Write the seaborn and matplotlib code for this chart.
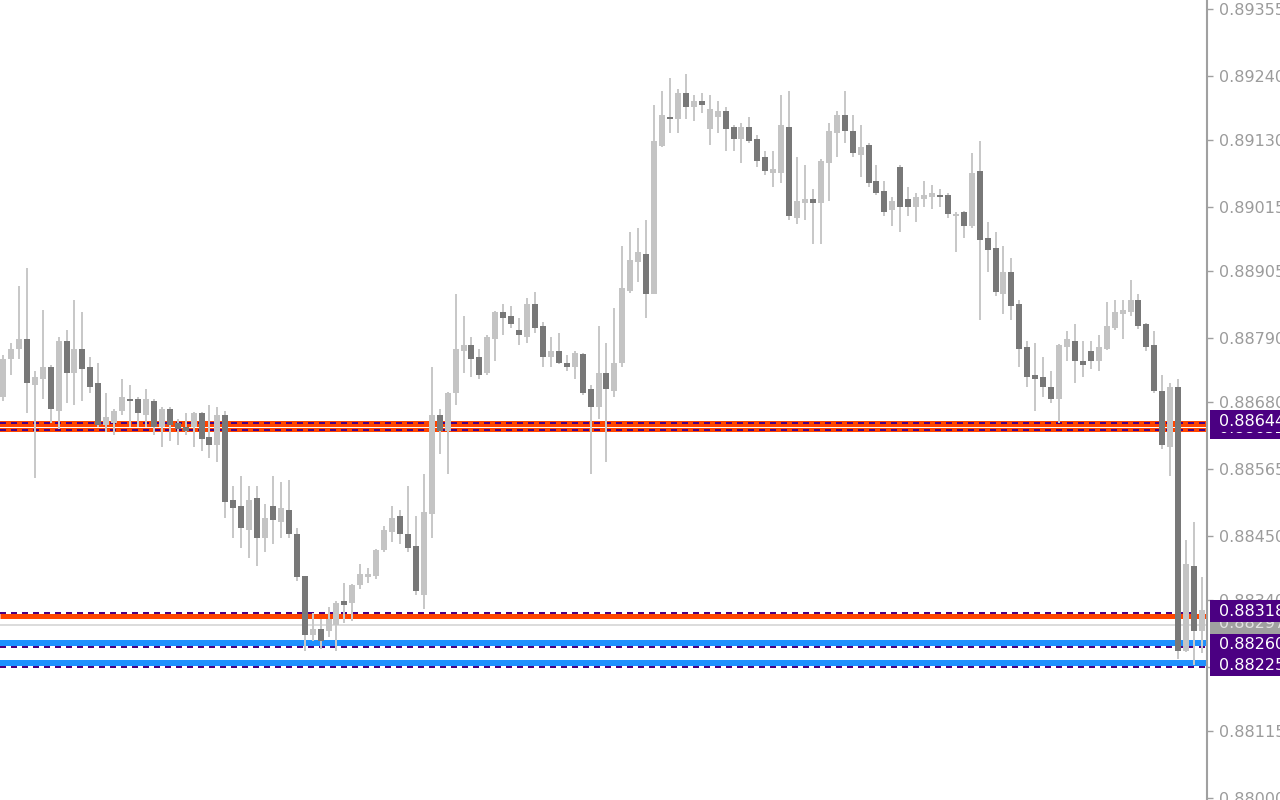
import numpy as np
import pandas as pd
import matplotlib
matplotlib.use("Agg")
import matplotlib.pyplot as plt
import seaborn as sns
from matplotlib.patches import Rectangle
from matplotlib.transforms import blended_transform_factory

# ---------------- data ----------------
opens = [0.88689, 0.88755, 0.88772, 0.88789, 0.88710, 0.88720, 0.88741, 0.88665, 0.88786, 0.88731,
         0.88772, 0.88741, 0.88713, 0.88641, 0.88645, 0.88665, 0.88686, 0.88686, 0.88658, 0.88682,
         0.88638, 0.88669, 0.88645, 0.88638, 0.88638, 0.88662, 0.88620, 0.88607, 0.88658, 0.88512,
         0.88502, 0.88461, 0.88515, 0.88447, 0.88502, 0.88475, 0.88495, 0.88454, 0.88382, 0.88281,
         0.88291, 0.88288, 0.88298, 0.88339, 0.88335, 0.88366, 0.88380, 0.88382, 0.88426, 0.88457,
         0.88485, 0.88454, 0.88433, 0.88349, 0.88488, 0.88658, 0.88631, 0.88696, 0.88768, 0.88779,
         0.88758, 0.88731, 0.88789, 0.88835, 0.88828, 0.88804, 0.88792, 0.88849, 0.88811, 0.88758,
         0.88768, 0.88748, 0.88741, 0.88763, 0.88703, 0.88672, 0.88731, 0.88700, 0.88748, 0.88871,
         0.88921, 0.88935, 0.88866, 0.89120, 0.89170, 0.89167, 0.89211, 0.89187, 0.89198, 0.89149,
         0.89170, 0.89180, 0.89153, 0.89132, 0.89153, 0.89132, 0.89101, 0.89074, 0.89074, 0.89153,
         0.88997, 0.89022, 0.89029, 0.89022, 0.89091, 0.89143, 0.89173, 0.89146, 0.89105, 0.89122,
         0.89060, 0.89043, 0.89010, 0.89084, 0.89029, 0.89015, 0.89029, 0.89033, 0.89036, 0.89036,
         0.89000, 0.89007, 0.88983, 0.89077, 0.88962, 0.88945, 0.88866, 0.88904, 0.88849, 0.88775,
         0.88727, 0.88724, 0.88706, 0.88686, 0.88775, 0.88786, 0.88751, 0.88768, 0.88751, 0.88772,
         0.88808, 0.88832, 0.88835, 0.88856, 0.88815, 0.88779, 0.88700, 0.88603, 0.88706, 0.88253,
         0.88399, 0.88287]

highs = [0.88762, 0.88782, 0.88880, 0.88911, 0.88734, 0.88839, 0.88744, 0.88792, 0.88804, 0.88856,
         0.88835, 0.88758, 0.88748, 0.88696, 0.88669, 0.88720, 0.88710, 0.88689, 0.88703, 0.88686,
         0.88672, 0.88672, 0.88652, 0.88662, 0.88664, 0.88664, 0.88676, 0.88672, 0.88665, 0.88536,
         0.88553, 0.88536, 0.88536, 0.88505, 0.88553, 0.88543, 0.88546, 0.88464, 0.88382, 0.88318,
         0.88308, 0.88328, 0.88339, 0.88370, 0.88368, 0.88402, 0.88395, 0.88428, 0.88468, 0.88502,
         0.88495, 0.88536, 0.88485, 0.88557, 0.88741, 0.88669, 0.88698, 0.88866, 0.88828, 0.88792,
         0.88772, 0.88796, 0.88837, 0.88849, 0.88846, 0.88825, 0.88859, 0.88870, 0.88818, 0.88792,
         0.88799, 0.88761, 0.88768, 0.88764, 0.88710, 0.88811, 0.88782, 0.88842, 0.88949, 0.88973,
         0.88980, 0.88993, 0.89191, 0.89215, 0.89237, 0.89218, 0.89244, 0.89208, 0.89211, 0.89208,
         0.89198, 0.89187, 0.89156, 0.89160, 0.89170, 0.89139, 0.89112, 0.89112, 0.89208, 0.89215,
         0.89101, 0.89088, 0.89046, 0.89098, 0.89160, 0.89180, 0.89215, 0.89173, 0.89156, 0.89125,
         0.89088, 0.89060, 0.89033, 0.89088, 0.89050, 0.89040, 0.89060, 0.89053, 0.89046, 0.89040,
         0.89007, 0.89009, 0.89108, 0.89129, 0.88990, 0.88973, 0.88949, 0.88928, 0.88856, 0.88786,
         0.88782, 0.88758, 0.88734, 0.88781, 0.88803, 0.88815, 0.88786, 0.88786, 0.88796, 0.88852,
         0.88856, 0.88856, 0.88890, 0.88866, 0.88817, 0.88803, 0.88727, 0.88713, 0.88720, 0.88444,
         0.88475, 0.88380]

lows = [0.88682, 0.88727, 0.88755, 0.88662, 0.88550, 0.88686, 0.88645, 0.88634, 0.88679, 0.88676,
        0.88682, 0.88696, 0.88638, 0.88629, 0.88624, 0.88658, 0.88638, 0.88638, 0.88638, 0.88624,
        0.88603, 0.88613, 0.88607, 0.88624, 0.88603, 0.88596, 0.88584, 0.88578, 0.88481, 0.88447,
        0.88430, 0.88413, 0.88399, 0.88423, 0.88437, 0.88447, 0.88447, 0.88373, 0.88253, 0.88270,
        0.88256, 0.88277, 0.88253, 0.88301, 0.88305, 0.88359, 0.88370, 0.88377, 0.88423, 0.88440,
        0.88437, 0.88423, 0.88349, 0.88325, 0.88447, 0.88591, 0.88557, 0.88676, 0.88731, 0.88724,
        0.88720, 0.88727, 0.88751, 0.88796, 0.88808, 0.88779, 0.88782, 0.88799, 0.88741, 0.88741,
        0.88746, 0.88734, 0.88720, 0.88693, 0.88557, 0.88651, 0.88578, 0.88689, 0.88741, 0.88868,
        0.88887, 0.88825, 0.88866, 0.89119, 0.89143, 0.89143, 0.89167, 0.89163, 0.89177, 0.89122,
        0.89143, 0.89112, 0.89112, 0.89091, 0.89125, 0.89084, 0.89070, 0.89050, 0.89057, 0.88993,
        0.88986, 0.88993, 0.88952, 0.88952, 0.89026, 0.89101, 0.89125, 0.89101, 0.89067, 0.89050,
        0.89036, 0.89000, 0.88983, 0.88973, 0.89000, 0.88990, 0.89015, 0.89012, 0.89015, 0.88997,
        0.88938, 0.88962, 0.88980, 0.88821, 0.88904, 0.88863, 0.88832, 0.88821, 0.88741, 0.88706,
        0.88665, 0.88689, 0.88679, 0.88645, 0.88751, 0.88713, 0.88724, 0.88737, 0.88734, 0.88770,
        0.88805, 0.88789, 0.88828, 0.88806, 0.88768, 0.88696, 0.88600, 0.88553, 0.88239, 0.88251,
        0.88229, 0.88250]

closes = [0.88755, 0.88772, 0.88789, 0.88713, 0.88724, 0.88741, 0.88669, 0.88786, 0.88731, 0.88772,
          0.88737, 0.88706, 0.88641, 0.88655, 0.88665, 0.88689, 0.88682, 0.88662, 0.88686, 0.88638,
          0.88669, 0.88641, 0.88634, 0.88631, 0.88662, 0.88617, 0.88607, 0.88658, 0.88509, 0.88498,
          0.88464, 0.88512, 0.88447, 0.88481, 0.88478, 0.88498, 0.88454, 0.88380, 0.88281, 0.88291,
          0.88270, 0.88308, 0.88335, 0.88332, 0.88366, 0.88385, 0.88385, 0.88426, 0.88461, 0.88481,
          0.88454, 0.88430, 0.88356, 0.88492, 0.88658, 0.88631, 0.88696, 0.88772, 0.88779, 0.88755,
          0.88727, 0.88792, 0.88835, 0.88825, 0.88815, 0.88796, 0.88849, 0.88808, 0.88758, 0.88768,
          0.88748, 0.88741, 0.88765, 0.88696, 0.88672, 0.88731, 0.88703, 0.88748, 0.88877, 0.88925,
          0.88938, 0.88866, 0.89129, 0.89173, 0.89167, 0.89211, 0.89187, 0.89198, 0.89191, 0.89184,
          0.89180, 0.89149, 0.89132, 0.89153, 0.89129, 0.89094, 0.89077, 0.89081, 0.89156, 0.89000,
          0.89026, 0.89029, 0.89022, 0.89094, 0.89146, 0.89173, 0.89146, 0.89108, 0.89119, 0.89057,
          0.89040, 0.89007, 0.89026, 0.89015, 0.89015, 0.89033, 0.89036, 0.89040, 0.89033, 0.89003,
          0.89003, 0.88983, 0.89074, 0.88959, 0.88942, 0.88870, 0.88904, 0.88846, 0.88772, 0.88724,
          0.88720, 0.88706, 0.88686, 0.88779, 0.88789, 0.88751, 0.88744, 0.88751, 0.88775, 0.88811,
          0.88835, 0.88839, 0.88856, 0.88811, 0.88775, 0.88700, 0.88607, 0.88706, 0.88253, 0.88402,
          0.88287, 0.88323]

level_prices = [0.88644, 0.88632, 0.88318, 0.88260, 0.88225]
level_colors = ["#FF4500", "#FF4500", "#FF4500", "#1E90FF", "#1E90FF"]
midline_price = 0.88297

tick_values = [0.89355, 0.89240, 0.89130, 0.89015, 0.88905, 0.88790, 0.88680,
               0.88565, 0.88450, 0.88340, 0.88225, 0.88115, 0.88000]
tick_labels = ["0.89355", "0.89240", "0.89130", "0.89015", "0.88905", "0.88790", "0.88680",
               "0.88565", "0.88450", "0.88340", "0.88225", "0.88115", "0.88000"]

# ---------------- style ----------------
sns.set_theme(style="white")
plt.rcParams["font.family"] = ["DejaVu Sans"]
plt.rcParams["lines.scale_dashes"] = False

W, H = 1280, 800
PT = 0.72  # points per pixel at 100 dpi
FS = 11.5
fig = plt.figure(figsize=(12.8, 8), dpi=100)
fig.patch.set_facecolor("white")
axis_px = 1207
ax = fig.add_axes([0, 0, axis_px / W, 1])
ax.set_facecolor("white")

y_top, y_bot = 0.89371, 0.87997
px = (y_top - y_bot) / H
n = len(opens)
first_px, last_px = 3, 1202
step = (last_px - first_px) / (n - 1)
ax.set_xlim(-first_px / step, (n - 1) + (axis_px - last_px) / step)
ax.set_ylim(y_bot, y_top)

df = pd.DataFrame({"open": opens, "high": highs, "low": lows, "close": closes})
df["x"] = np.arange(n)
df["up"] = df["close"] >= df["open"]

# ---------------- level lines (behind candles) ----------------
band_offsets_px = [-1, 0, -2.5, 4, 4]
band_widths_px = [6, 4, 5, 6, 6]
for p, c, off, w in zip(level_prices, level_colors, band_offsets_px, band_widths_px):
    ax.axhline(p + off * px, color=c, lw=w * PT, zorder=1, solid_capstyle="butt")
    ax.axhline(p, color="#4B0082", lw=2 * PT, linestyle=(0, (6 * PT, 5 * PT)),
               zorder=2, dash_capstyle="butt")
ax.axhline(midline_price, color="#DCDCDC", lw=2 * PT, zorder=1)

# ---------------- candles ----------------
wick_w = 2 / step
body_w = 6 / step
ax.bar(df["x"], df["high"] - df["low"], bottom=df["low"], width=wick_w,
       color="#C8C8C8", linewidth=0, zorder=3, antialiased=False)
body_h = np.maximum((df["close"] - df["open"]).abs(), 2 * px)
body_mid = (df["close"] + df["open"]) / 2
body_colors = np.where(df["up"], "#C4C4C4", "#787878")
ax.bar(df["x"], body_h, bottom=body_mid - body_h / 2, width=body_w,
       color=body_colors, linewidth=0, zorder=4, antialiased=False)

# ---------------- axes ----------------
for s in ["top", "left", "bottom"]:
    ax.spines[s].set_visible(False)
ax.spines["right"].set_color("#A0A0A0")
ax.spines["right"].set_linewidth(1.5)
ax.set_xticks([])
ax.yaxis.tick_right()
ax.set_yticks(tick_values)
ax.set_yticklabels(tick_labels)
ax.tick_params(axis="y", right=True, left=False, length=4, width=1, color="#A0A0A0",
               labelcolor="#9B9B9B", labelsize=FS, pad=5)
ax.grid(False)

# ---------------- price label boxes ----------------
trans = blended_transform_factory(fig.transFigure, ax.transData)
boxes = [(0.88632, "#4B0082", "white"),
         (0.88644, "#4B0082", "white"),
         (midline_price, "#A0A0A0", "#E2E2E2"),
         (0.88318, "#4B0082", "white"),
         (0.88260, "#4B0082", "white"),
         (0.88225, "#4B0082", "white")]
for k, (p, bg, fg) in enumerate(boxes):
    yc = p + 2 * px
    ax.add_patch(Rectangle((1210 / W, yc - 11 * px), 1.0, 22 * px, transform=trans,
                           facecolor=bg, edgecolor="none", clip_on=False, zorder=10 + 2 * k))
    ax.text(1219 / W, yc, f"{p:.5f}", transform=trans, color=fg, fontsize=FS,
            ha="left", va="center", clip_on=False, zorder=11 + 2 * k)

fig.savefig("out.png", dpi=100, facecolor="white")
